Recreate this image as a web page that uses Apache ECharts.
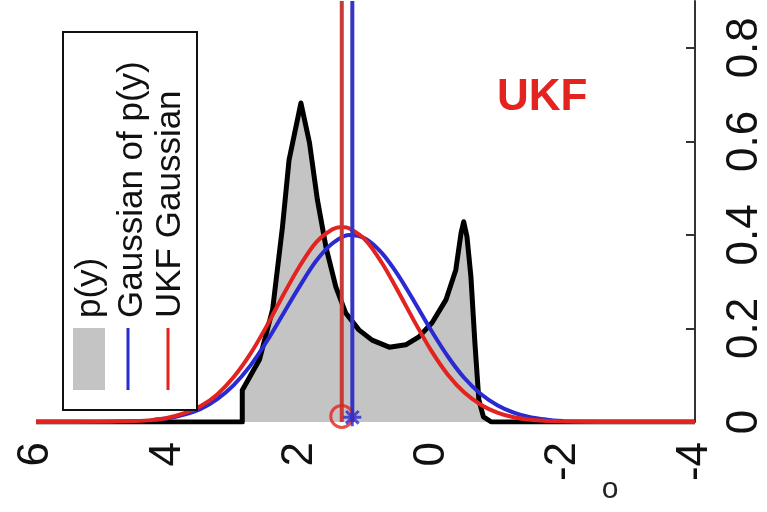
<!DOCTYPE html>
<html>
<head>
<meta charset="utf-8">
<script src="https://cdn.jsdelivr.net/npm/echarts@6/dist/echarts.min.js"></script>
<style>
  html, body { margin: 0; padding: 0; background: #ffffff; }
  #chart { width: 767px; height: 512px; }
</style>
</head>
<body>
<div id="chart"></div>
<script>
// Axis tick labels
const xTicks = [6, 4, 2, 0, -2, -4];
const yTicks = [0, 0.2, 0.4, 0.6, 0.8];

// p(y): bimodal density (outline points)
const pyX = [6, 2.87, 2.87, 2.61, 2.41, 2.26, 2.16, 1.98, 1.85, 1.73, 1.60, 1.45, 1.30, 1.10, 0.90, 0.64, 0.39, 0.19, -0.01, -0.22, -0.37, -0.45, -0.49, -0.54, -0.60, -0.66, -0.72, -0.79, -0.91, -4];
const pyY = [0, 0, 0.068, 0.133, 0.24, 0.417, 0.56, 0.682, 0.597, 0.475, 0.374, 0.289, 0.233, 0.197, 0.175, 0.160, 0.165, 0.182, 0.212, 0.261, 0.325, 0.404, 0.428, 0.396, 0.310, 0.169, 0.047, 0.011, 0, 0];

// Gaussian fitted to p(y)
const gaussX = [4.25, 4, 3.75, 3.5, 3.25, 3, 2.75, 2.5, 2.25, 2, 1.75, 1.5, 1.25, 1, 0.75, 0.5, 0.25, 0, -0.25, -0.5, -0.75, -1, -1.25, -1.5, -1.75, -2];
const gaussY = [0.004, 0.008, 0.016, 0.028, 0.049, 0.079, 0.120, 0.172, 0.231, 0.290, 0.344, 0.382, 0.400, 0.392, 0.361, 0.313, 0.255, 0.195, 0.140, 0.094, 0.060, 0.036, 0.020, 0.010, 0.005, 0.002];

// UKF Gaussian
const ukfX = [6, 5, 4.5, 4.25, 4, 3.75, 3.5, 3.25, 3, 2.75, 2.5, 2.25, 2, 1.75, 1.5, 1.36, 1.25, 1, 0.75, 0.5, 0.25, 0, -0.25, -0.5, -0.75, -1, -1.25, -1.5, -2, -3, -4];
const ukfY = [0, 0.0003, 0.002, 0.004, 0.009, 0.019, 0.034, 0.059, 0.096, 0.145, 0.205, 0.271, 0.333, 0.384, 0.412, 0.417, 0.414, 0.389, 0.340, 0.278, 0.213, 0.152, 0.101, 0.063, 0.037, 0.020, 0.010, 0.005, 0.001, 0, 0];

// Means
const gaussMean = 1.20;
const ukfMean = 1.36;
const yTop = 0.9;

const legendLabels = ['p(y)', 'Gaussian of p(y)', 'UKF Gaussian'];

const RED = '#e2231f';
const BLUE = '#2a2ad2';
const FONT = 'Liberation Sans, Arial, sans-serif';

const zip = (xs, ys) => xs.map((x, i) => [x, ys[i]]);

const chart = echarts.init(document.getElementById('chart'), null, { renderer: 'canvas' });

const starPath = 'path://M0,-10L0,10M-10,0L10,0M-7,-7L7,7M-7,7L7,-7';

chart.setOption({
  backgroundColor: '#ffffff',
  animation: false,
  grid: { left: 36, right: 70, top: 1, bottom: 90 },
  xAxis: {
    type: 'value',
    min: -4, max: 6, interval: 2, inverse: true,
    axisLine: { show: false, onZero: false },
    axisTick: { show: false },
    splitLine: { show: false },
    axisLabel: {
      rotate: 90, fontSize: 44, color: '#111', fontFamily: FONT, margin: 20,
      customValues: xTicks
    }
  },
  yAxis: {
    type: 'value',
    position: 'right',
    min: 0, max: yTop, interval: 0.2,
    axisLine: { show: true, onZero: false, lineStyle: { color: '#333', width: 2 } },
    axisTick: { show: true, inside: true, length: 9, lineStyle: { color: '#333', width: 2 }, customValues: yTicks },
    splitLine: { show: false },
    axisLabel: {
      rotate: 90, fontSize: 44, color: '#111', fontFamily: FONT, margin: 28,
      customValues: yTicks
    }
  },
  series: [
    {
      name: legendLabels[0], type: 'line', data: zip(pyX, pyY),
      symbol: 'none', z: 2,
      lineStyle: { color: '#000', width: 5, join: 'round' },
      areaStyle: { color: '#c4c4c4', opacity: 1 }
    },
    {
      name: legendLabels[1], type: 'line', data: zip(gaussX, gaussY),
      symbol: 'none', smooth: 0.3, z: 3,
      lineStyle: { color: BLUE, width: 4 }
    },
    {
      name: legendLabels[2], type: 'line', data: zip(ukfX, ukfY),
      symbol: 'none', smooth: 0.3, z: 4,
      lineStyle: { color: RED, width: 4 }
    },
    {
      type: 'line', data: [[ukfMean, 0], [ukfMean, yTop]],
      symbol: 'none', z: 5,
      lineStyle: { color: '#c83a3a', width: 4 }
    },
    {
      type: 'line', data: [[gaussMean, 0], [gaussMean, yTop]],
      symbol: 'none', z: 5,
      lineStyle: { color: '#3434c8', width: 4 }
    },
    {
      type: 'scatter', data: [[ukfMean, 0.012]], z: 6,
      symbol: 'circle', symbolSize: 22,
      itemStyle: { color: 'none', borderColor: RED, borderWidth: 3 }
    },
    {
      type: 'scatter', data: [[gaussMean, 0.01]], z: 7,
      symbol: starPath, symbolSize: 18,
      itemStyle: { color: 'none', borderColor: BLUE, borderWidth: 3 }
    }
  ],
  graphic: [
    // legend box
    { type: 'rect', z: 100, shape: { x: 63, y: 32, width: 134, height: 378 },
      style: { fill: '#ffffff', stroke: '#111', lineWidth: 2 } },
    { type: 'rect', z: 101, shape: { x: 73, y: 328, width: 32, height: 62 },
      style: { fill: '#c4c4c4' } },
    { type: 'line', z: 101, shape: { x1: 128, y1: 328, x2: 128, y2: 390 },
      style: { stroke: BLUE, lineWidth: 3 } },
    { type: 'line', z: 101, shape: { x1: 168, y1: 328, x2: 168, y2: 390 },
      style: { stroke: RED, lineWidth: 3 } },
    { type: 'text', z: 101, x: 90, y: 318, rotation: Math.PI / 2,
      style: { text: legendLabels[0], fontSize: 35, fontFamily: FONT, fill: '#111', align: 'left', verticalAlign: 'middle' } },
    { type: 'text', z: 101, x: 132, y: 318, rotation: Math.PI / 2,
      style: { text: legendLabels[1], fontSize: 35, fontFamily: FONT, fill: '#111', align: 'left', verticalAlign: 'middle' } },
    { type: 'text', z: 101, x: 170, y: 318, rotation: Math.PI / 2,
      style: { text: legendLabels[2], fontSize: 35, fontFamily: FONT, fill: '#111', align: 'left', verticalAlign: 'middle' } },
    // panel title
    { type: 'text', z: 101, x: 497, y: 98,
      style: { text: 'UKF', fontSize: 44, fontWeight: 'bold', fontFamily: FONT, fill: RED, align: 'left', verticalAlign: 'middle' } },
    { type: 'text', z: 101, x: 610, y: 490,
      style: { text: 'o', fontSize: 30, fontFamily: FONT, fill: '#222', align: 'center', verticalAlign: 'middle' } }
  ]
});
</script>
</body>
</html>
